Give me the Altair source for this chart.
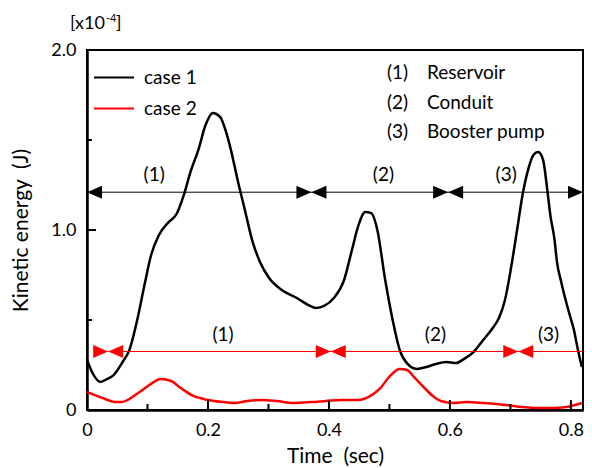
import altair as alt
import pandas as pd

# ---- data ----
t_case1 = [0.000, 0.010, 0.022, 0.033, 0.044, 0.059, 0.070, 0.083, 0.095, 0.106,
           0.119, 0.135, 0.148, 0.160, 0.171, 0.184, 0.196, 0.208, 0.220, 0.230,
           0.238, 0.249, 0.261, 0.273, 0.286, 0.301, 0.322, 0.347, 0.366, 0.379,
           0.392, 0.408, 0.425, 0.438, 0.449, 0.460, 0.470, 0.480, 0.493, 0.506,
           0.517, 0.530, 0.545, 0.561, 0.577, 0.594, 0.610, 0.623, 0.639, 0.655,
           0.672, 0.681, 0.691, 0.701, 0.711, 0.720, 0.730, 0.738, 0.746, 0.754,
           0.761, 0.766, 0.773, 0.777, 0.784, 0.790, 0.798, 0.805, 0.811, 0.818]
v_case1 = [0.278, 0.200, 0.156, 0.172, 0.194, 0.267, 0.333, 0.500, 0.694, 0.861,
           0.972, 1.044, 1.089, 1.194, 1.322, 1.444, 1.583, 1.650, 1.628, 1.544,
           1.444, 1.278, 1.111, 0.944, 0.822, 0.733, 0.667, 0.622, 0.583, 0.567,
           0.578, 0.622, 0.722, 0.889, 1.028, 1.100, 1.094, 1.000, 0.722, 0.489,
           0.333, 0.256, 0.228, 0.239, 0.256, 0.267, 0.261, 0.283, 0.322, 0.389,
           0.461, 0.511, 0.611, 0.789, 1.000, 1.194, 1.344, 1.417, 1.433, 1.389,
           1.222, 1.083, 0.944, 0.822, 0.711, 0.628, 0.528, 0.444, 0.344, 0.239]

t_case2 = [0.000, 0.013, 0.030, 0.046, 0.057, 0.070, 0.087, 0.103, 0.122, 0.139,
           0.155, 0.176, 0.200, 0.225, 0.244, 0.265, 0.290, 0.314, 0.342, 0.371,
           0.395, 0.420, 0.449, 0.465, 0.485, 0.501, 0.517, 0.529, 0.542, 0.558,
           0.574, 0.585, 0.606, 0.628, 0.655, 0.692, 0.720, 0.741, 0.769, 0.793,
           0.818]
v_case2 = [0.100, 0.083, 0.061, 0.044, 0.044, 0.061, 0.100, 0.139, 0.172, 0.161,
           0.122, 0.078, 0.056, 0.044, 0.039, 0.050, 0.056, 0.050, 0.039, 0.044,
           0.050, 0.056, 0.056, 0.072, 0.122, 0.189, 0.228, 0.222, 0.178, 0.122,
           0.072, 0.050, 0.039, 0.044, 0.039, 0.028, 0.017, 0.011, 0.011, 0.017,
           0.039]

case_names = ["case 1", "case 2"]
case_colors = ["black", "red"]

black_bounds = [0.0, 0.371, 0.597, 0.82]
black_arrow_v = 1.21
black_label_t = [0.111, 0.490, 0.693]
black_label_v = 1.306

red_bounds = [0.035, 0.403, 0.713]
red_line_end = 0.82
red_arrow_v = 0.325
red_label_t = [0.225, 0.576, 0.763]
red_label_v = 0.417

region_nums = ["(1)", "(2)", "(3)"]
region_names = ["Reservoir", "Conduit", "Booster pump"]
region_key_t_num = 0.496
region_key_t_name = 0.562
region_key_v = [1.872, 1.706, 1.544]

x_tick_values = [0, 0.2, 0.4, 0.6, 0.8]
x_minor_ticks = [0.1, 0.3, 0.5, 0.7]
y_tick_values = [0, 1.0, 2.0]
y_minor_ticks = [0.5, 1.5]

FONT = "Lato"
W, H = 496, 360

xs = alt.Scale(domain=[0, 0.82], nice=False, zero=False)
ys = alt.Scale(domain=[0, 2.0], nice=False, zero=False)

label_expr = "datum.value == 0 ? '0' : format(datum.value, '.1f')"

AX = alt.Axis(values=x_tick_values, labelExpr=label_expr, ticks=False, tickSize=0,
              grid=False, domainColor="black", domainWidth=2.5, labelFontSize=18,
              labelColor="black", labelPadding=11, labelFlush=False,
              title="Time\u00a0 (sec)", titleFontSize=21, titleFontWeight="normal",
              titleColor="black", titleY=52, titleBaseline="alphabetic")
AY = alt.Axis(values=y_tick_values, labelExpr=label_expr, ticks=False, tickSize=0,
              grid=False, domainColor="black", domainWidth=2.5, labelFontSize=18,
              labelColor="black", labelPadding=11, labelFlush=False,
              title="Kinetic energy\u00a0 (J)", titleFontSize=21,
              titleFontWeight="normal", titleColor="black", titleX=-60,
              titleY=H / 2, titleBaseline="alphabetic", titleAngle=270,
              titleAlign="center")


def X(f):
    return alt.X(f, type="quantitative", scale=xs, axis=AX)


def Y(f):
    return alt.Y(f, type="quantitative", scale=ys, axis=AY)


df_curves = pd.concat([
    pd.DataFrame({"t": t_case1, "v": v_case1, "case": case_names[0]}),
    pd.DataFrame({"t": t_case2, "v": v_case2, "case": case_names[1]}),
])

curves = alt.Chart(df_curves).mark_line(interpolate="monotone", strokeWidth=2.5).encode(
    x=X("t"),
    y=Y("v"),
    color=alt.Color("case:N", scale=alt.Scale(domain=case_names, range=case_colors),
                    legend=alt.Legend(orient="none", legendX=6, legendY=13, title=None,
                                      symbolType="stroke", symbolSize=1600,
                                      symbolStrokeWidth=2, clipHeight=29, labelFontSize=19,
                                      labelColor="black", labelOffset=9, padding=0)),
    order="t:Q",
)

df_black_rule = pd.DataFrame({"t": [min(black_bounds)], "t1": [max(black_bounds)],
                              "v": [black_arrow_v]})
black_rule = alt.Chart(df_black_rule).mark_rule(color="black", strokeWidth=1).encode(
    x=X("t"), x2="t1:Q", y=Y("v"))

df_red_rule = pd.DataFrame({"t": [min(red_bounds)], "t1": [red_line_end], "v": [red_arrow_v]})
red_rule = alt.Chart(df_red_rule).mark_rule(color="red", strokeWidth=1).encode(
    x=X("t"), x2="t1:Q", y=Y("v"))

PATH_R = "M0,0 L-2,-0.867 L-2,0.867 Z"
PATH_L = "M0,0 L2,-0.867 L2,0.867 Z"


def heads(ts, v, color, path):
    d = pd.DataFrame({"t": ts, "v": [v] * len(ts)})
    return alt.Chart(d).mark_point(shape=path, filled=True, size=225, opacity=1,
                                   strokeWidth=0, color=color).encode(x=X("t"), y=Y("v"))


black_r = heads(black_bounds[1:], black_arrow_v, "black", PATH_R)
black_l = heads(black_bounds[:-1], black_arrow_v, "black", PATH_L)
red_r = heads(red_bounds, red_arrow_v, "red", PATH_R)
red_l = heads(red_bounds, red_arrow_v, "red", PATH_L)


def texts(ts, vs, labels, align="center", size=19):
    d = pd.DataFrame({"t": ts, "v": vs, "s": labels})
    return alt.Chart(d).mark_text(align=align, baseline="middle", fontSize=size,
                                  color="black", font=FONT).encode(
        x=X("t"), y=Y("v"), text="s:N")


black_labels = texts(black_label_t, [black_label_v] * 3, region_nums)
red_labels = texts(red_label_t, [red_label_v] * 3, region_nums)
key_nums = texts([region_key_t_num] * 3, region_key_v, region_nums, align="left")
key_names = texts([region_key_t_name] * 3, region_key_v, region_names, align="left")


def yticks(vals, length):
    d = pd.DataFrame({"v": vals})
    return alt.Chart(d).mark_rule(color="black", strokeWidth=2).encode(
        y=Y("v"), x=alt.value(0), x2=alt.value(length))


def xticks(vals, length):
    d = pd.DataFrame({"t": vals})
    return alt.Chart(d).mark_rule(color="black", strokeWidth=2).encode(
        x=X("t"), y=alt.value(H), y2=alt.value(H - length))


ticks = [yticks(y_tick_values, 9), yticks(y_minor_ticks, 5),
         xticks(x_tick_values, 10), xticks(x_minor_ticks, 6)]

# exponent label "[x10^-4]" above the y axis
unit_main = alt.Chart(pd.DataFrame({"s": ["[x10"]})).mark_text(
    align="left", baseline="alphabetic", fontSize=18, color="black", font=FONT).encode(
    text="s:N", x=alt.value(-17), y=alt.value(-21))
unit_sup = alt.Chart(pd.DataFrame({"s": ["-4"]})).mark_text(
    align="left", baseline="alphabetic", fontSize=11, color="black", font=FONT).encode(
    text="s:N", x=alt.value(19), y=alt.value(-28))
unit_close = alt.Chart(pd.DataFrame({"s": ["]"]})).mark_text(
    align="left", baseline="alphabetic", fontSize=18, color="black", font=FONT).encode(
    text="s:N", x=alt.value(29), y=alt.value(-21))

chart = alt.layer(
    curves, black_rule, red_rule, black_r, black_l, red_r, red_l,
    black_labels, red_labels, key_nums, key_names, *ticks,
    unit_main, unit_sup, unit_close,
).properties(
    width=W, height=H,
    autosize=alt.AutoSizeParams(type="none"),
    padding={"left": 79, "top": 42, "right": 1, "bottom": 58},
).configure(font=FONT).configure_view(stroke="black", strokeWidth=2)

chart.save("out.html", embed_options={"renderer": "svg", "actions": False})
